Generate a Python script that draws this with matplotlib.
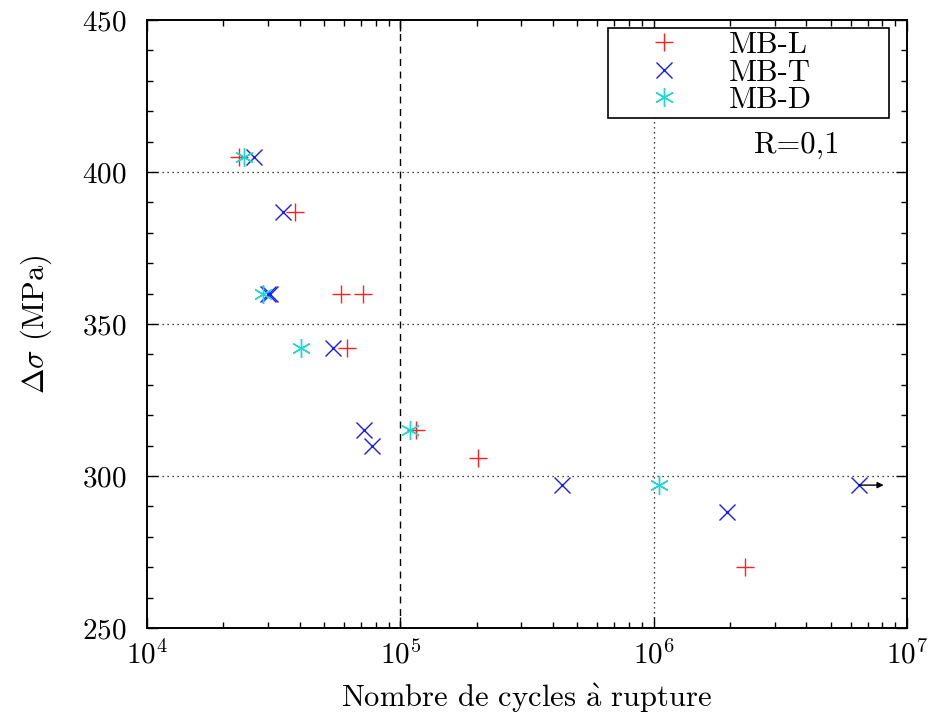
import matplotlib
matplotlib.use("Agg")
import matplotlib.pyplot as plt
from matplotlib.ticker import LogLocator, MultipleLocator, NullFormatter

plt.rcParams['font.family'] = ['cmr10', 'DejaVu Serif']
plt.rcParams['mathtext.fontset'] = 'cm'
plt.rcParams['axes.unicode_minus'] = False
plt.rcParams['axes.formatter.use_mathtext'] = True

# Fatigue results: cycles to failure vs stress range
mbl_cycles = [23100, 38400, 58300, 71000, 61400, 115400, 203000, 2.30e6]
mbl_stress = [405, 387, 360, 360, 342, 315, 306, 270]

mbt_cycles = [26500, 34500, 29900, 30600, 54400, 72100, 77500, 436000, 1.94e6, 6.47e6]
mbt_stress = [405, 387, 360, 360, 342, 315, 310, 297, 288, 297]

mbd_cycles = [24150, 28600, 40400, 109200, 1.053e6]
mbd_stress = [405, 360, 342, 315, 297]

# Run-out specimen (no failure)
runout_cycles = 6.47e6
runout_stress = 297

x_limits = (1e4, 1e7)
y_limits = (250, 450)
y_grid = [300, 350, 400]
x_grid = [1e6]
x_ref = 1e5

fig = plt.figure(figsize=(9.29, 7.2), dpi=100)
ax = fig.add_axes([147 / 929, 1 - 628 / 720, 760 / 929, 608 / 720])

ax.set_xscale('log')
ax.set_xlim(*x_limits)
ax.set_ylim(*y_limits)

for yv in y_grid:
    ax.axhline(yv, color='black', lw=0.9, ls=(0, (1, 3)), zorder=1)
for xv in x_grid:
    ax.axvline(xv, color='black', lw=0.9, ls=(0, (1, 3)), zorder=1)
ax.axvline(x_ref, color='black', lw=1.0, ls=(0, (5, 4)), zorder=1)

ms = 13
ax.plot(mbl_cycles, mbl_stress, ls='none', marker='+', ms=ms, mew=1.0,
        color='#ff2020', label='MB-L', zorder=3)
ax.plot(mbt_cycles, mbt_stress, ls='none', marker='x', ms=ms * 0.9, mew=1.0,
        color='#1a1aff', label='MB-T', zorder=3)
ax.plot(mbd_cycles, mbd_stress, ls='none', marker=(6, 2, 0), ms=ms * 1.05, mew=1.0,
        color='#1ed6d6', label='MB-D', zorder=3)

ax.annotate('', xy=(runout_cycles * 1.25, runout_stress),
            xytext=(runout_cycles, runout_stress),
            arrowprops=dict(arrowstyle='-|>', color='black', lw=1.0,
                            mutation_scale=9, shrinkA=0, shrinkB=0),
            zorder=4)

ax.xaxis.set_major_locator(LogLocator(base=10, numticks=10))
ax.xaxis.set_minor_locator(LogLocator(base=10, subs=range(2, 10), numticks=20))
ax.xaxis.set_minor_formatter(NullFormatter())
ax.yaxis.set_major_locator(MultipleLocator(50))
ax.yaxis.set_minor_locator(MultipleLocator(10))

ax.tick_params(which='both', direction='in', top=True, right=True,
               labelsize=21, width=1.0)
ax.tick_params(which='major', length=8, pad=9)
ax.tick_params(axis='y', which='major', pad=15)
ax.tick_params(which='minor', length=4)
for sp in ax.spines.values():
    sp.set_linewidth(1.4)

ax.set_xlabel(r'Nombre de cycles $\mathrm{\grave{a}}$ rupture', fontsize=22, labelpad=8)
ax.set_ylabel(r'$\Delta\sigma$ (MPa)', fontsize=22, labelpad=20)

leg = ax.legend(loc='upper left', bbox_to_anchor=(0.6066, 0.9868, 0.3694, 0.0),
                mode='expand', fontsize=22, frameon=True, fancybox=False,
                edgecolor='black', handlelength=3.4, handletextpad=0.42,
                labelspacing=0.0, borderpad=0.12, borderaxespad=0.0)
leg.get_frame().set_linewidth(1.2)
leg.get_frame().set_alpha(1.0)

ax.text(0.855, 0.794, 'R=0,1', transform=ax.transAxes, fontsize=22,
        ha='center', va='center')

fig.savefig('out.png', dpi=100)
